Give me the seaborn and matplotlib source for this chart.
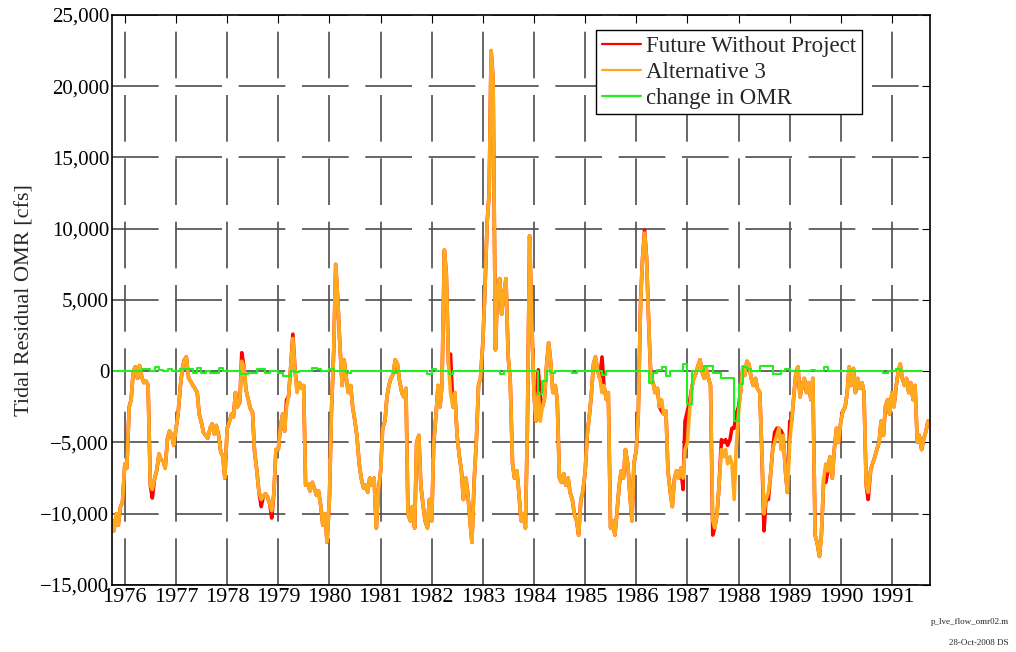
import numpy as np
import pandas as pd
import matplotlib
matplotlib.use("Agg")
import matplotlib.pyplot as plt
import matplotlib.dates as mdates
from matplotlib.ticker import FuncFormatter, MultipleLocator
import seaborn as sns

# Alternative 3, tidal residual OMR [cfs], read twice a month, Oct 1975 - Sep 1991
alt3 = [
    -10500, -11200, -10000, -10800, -9500, -9200, -6500, -6800, -2500, -2000, 0, 300,
    -500, 400, -400, -800, -700, -1000, -8000, -8300, -7500, -7000, -5800, -6200,
    -6300, -6800, -4700, -4200, -4500, -5200, -4000, -3000, -1000, 200, 800, 1000,
    -500, -700, -1000, -1200, -1500, -3000, -3600, -4300, -4500, -4700, -4000, -3700,
    -4400, -3800, -4500, -5600, -6000, -7500, -4000, -3600, -3000, -3200, -1500, -2500,
    -2200, 700, 300, -1300, -2000, -2600, -2900, -5600, -7000, -8400, -9000, -8800,
    -8600, -8800, -9300, -9800, -8500, -5500, -5500, -4000, -3000, -4200, -2500, -1800,
    500, 2300, 0, -1500, -800, -1200, -1000, -8000, -7900, -8400, -7800, -8200,
    -8700, -8400, -9500, -10800, -10000, -12000, -9000, -3000, 1500, 7500, 5000, 2000,
    -1000, 800, -500, -1500, -1000, -2500, -3500, -4500, -6500, -7500, -8200, -8000,
    -8500, -7500, -8000, -7500, -11000, -8500, -7000, -4000, -3500, -1800, -1000, -500,
    -200, 800, 500, -600, -1500, -1800, -1200, -10000, -10500, -9500, -11000, -5000,
    -4500, -8000, -9500, -10500, -11000, -9000, -10500, -5000, -3000, -1000, -2500, -1000,
    8500, 6800, 500, -1500, -2500, -1500, -4500, -5800, -7000, -9000, -7500, -8500,
    -10500, -12000, -7500, -5000, -1000, -500, 2000, 5500, 10500, 12500, 22500, 20500,
    1500, 5500, 6500, 4000, 5500, 6500, 1000, -500, -6500, -7500, -7000, -8500,
    -10500, -10000, -11000, -4000, 9500, 4000, -1500, -3500, -1500, -3500, -2500, -2000,
    500, 2000, 500, -1500, -1000, -2000, -7500, -7800, -7200, -8000, -7500, -8500,
    -9000, -10000, -10500, -11500, -9000, -8500, -7000, -4500, -3000, -1500, 500, 1000,
    0, -500, -1500, -1000, -2000, -1500, -11000, -10500, -11500, -10000, -8000, -7000,
    -7500, -5500, -6500, -8500, -10500, -6500, -5500, -3000, 5000, 8000, 9700, 8000,
    3000, -500, -800, -1500, -1200, -2500, -2000, -3000, -2800, -7000, -8500, -9500,
    -7500, -7000, -7500, -6800, -7500, -5500, -5000, -3000, -1200, -500, -200, 300,
    800, 0, -500, 200, -500, -1000, -10500, -11000, -10000, -8000, -5500, -6000,
    -5500, -6500, -6000, -6500, -9000, -5500, -3000, -1500, 300, -300, 700, 500,
    -500, -1000, -500, -1200, -1500, -5500, -10000, -9000, -8500, -7500, -5500, -5000,
    -4500, -4000, -5500, -4500, -7000, -8500, -5000, -3500, -1500, 0, 300, -1800,
    -1000, -500, -1500, -800, -2000, -500, -11500, -12000, -13000, -11500, -7500, -6500,
    -7000, -6000, -7500, -5500, -4000, -5000, -3500, -2800, -2500, -1500, 300, -1000,
    200, -1500, -500, -1200, -800, -1500, -8000, -8500, -7000, -6500, -6000, -5500,
    -5000, -3500, -4500, -2500, -2000, -3000, -1500, -2500, -1000, 0, 500, -500,
    -1000, -500, -1500, -800, -2000, -1000, -5000, -4500, -5500, -4800, -4200, -3500,
]

# Future Without Project: same as Alternative 3 except where red shows through
fwop_readings = {
    19: -8900, 61: 1300, 70: -9500, 75: -10300, 82: -2000, 85: 2600, 87: -1300,
    159: 1200, 200: 100, 201: -1900, 230: 1000, 250: 9900, 258: -2800,
    268: -8300, 269: -3500, 270: -2800, 271: -2200, 282: -11500,
    286: -4800, 287: -5000, 288: -4800, 289: -5200, 290: -4800, 291: -4000,
    292: -4000, 293: -3000, 294: -2500, 306: -11200, 308: -9000,
    311: -4300, 312: -4000, 314: -4200, 318: -3500, 335: -7800, 355: -9000,
}
fwop = list(alt3)
for k, v in fwop_readings.items():
    fwop[k] = v

# change in OMR, monthly steps, Oct 1975 - Aug 1991
change = [
    0, 0, 0, 0, 0, 0, 0, 150, 150, 0, 300, 100,
    0, 150, 0, 50, 150, 150, 150, -100, 250, -100, 0, -100,
    -100, 250, 0, 0, 0, 0, -200, -200, -100, -100, 150, 150,
    -100, 0, 0, -100, -300, -300, 0, -50, 0, 0, 0, 200,
    150, 0, 0, 150, 0, 0, 0, -150, 0, 0, 0, 0,
    0, 0, 0, 0, 0, 0, -150, 0, 0, 0, 0, 0,
    0, 0, -200, 150, 0, 0, 0, -200, 0, 0, 0, 0,
    0, 0, 0, 0, 0, 0, 0, -200, 0, 0, 0, 0,
    0, 0, 0, 0, -1600, -700, 0, -100, 0, 0, 0, 0,
    -100, 0, 0, 0, 0, 0, 0, -250, 0, 0, 0, 0,
    0, 0, 0, 0, 0, 0, -800, -150, 100, 300, -300, 0,
    0, 0, 500, -2300, 0, 0, 0, 350, 350, -100, -100, -500,
    -500, -500, -3500, -900, 300, 150, 50, 50, 400, 400, 400, -200,
    -200, 0, 150, 0, 0, 0, 0, 0, 100, 0, 0, 300,
    50, 50, 0, 0, 0, 0, 0, 0, 0, 0, 0, 0,
    0, -100, 0, 0, 150, 0, 0, 0, 0, 0, 0,
]

dates = pd.date_range("1975-10-01", periods=len(alt3), freq="SMS")
months = pd.date_range("1975-10-01", periods=len(change), freq="MS")
df = pd.DataFrame({"date": dates, "fwop": fwop, "alt3": alt3})
dchg = pd.DataFrame({"date": months, "change": change})

sns.set_style("white")
plt.rcParams["font.family"] = ["Liberation Serif", "DejaVu Serif"]

fig = plt.figure(figsize=(10.16, 6.52), dpi=100)
ax = fig.add_axes([0.1102, 0.1028, 0.8052, 0.8742])

sns.lineplot(data=df, x="date", y="fwop", color="#ff0000", lw=2.6,
             label="Future Without Project", ax=ax)
sns.lineplot(data=df, x="date", y="alt3", color="#ffaa1e", lw=2.6,
             label="Alternative 3", ax=ax)
sns.lineplot(data=dchg, x="date", y="change", color="#22ee22", lw=1.5,
             drawstyle="steps-post", label="change in OMR", ax=ax)

ax.set_xlim(pd.Timestamp("1975-10-01"), pd.Timestamp("1991-09-30"))
ax.set_ylim(-15000, 25000)
ax.xaxis.set_major_locator(mdates.YearLocator())
ax.xaxis.set_major_formatter(mdates.DateFormatter("%Y"))
ax.yaxis.set_major_locator(MultipleLocator(5000))
ax.yaxis.set_major_formatter(
    FuncFormatter(lambda v, p: f"{v:,.0f}".replace("-", "\u2212")))

ax.grid(True, color="0.3", lw=1.2, linestyle=(0, (28, 10)))
for s in ax.spines.values():
    s.set_color("black")
    s.set_linewidth(1.2)
ax.tick_params(direction="in", length=6, top=True, right=True,
               pad=2, colors="black")
ax.tick_params(axis="x", labelsize=16)
ax.tick_params(axis="y", labelsize=15)

ax.set_xlabel("")
ax.set_ylabel("Tidal Residual OMR [cfs]", fontsize=16, labelpad=4)

leg = ax.legend(loc="upper right", bbox_to_anchor=(0.917, 0.974), frameon=True,
                fancybox=False, edgecolor="black", framealpha=1, fontsize=16.5,
                handlelength=1.7, handletextpad=0.25, borderpad=0.25,
                labelspacing=0.22, borderaxespad=0)
leg.get_frame().set_linewidth(1.0)
for line in leg.get_lines():
    line.set_linewidth(1.6)

fig.text(0.993, 0.046, "p_lve_flow_omr02.m", ha="right", va="center", fontsize=6.5)
fig.text(0.993, 0.014, "28-Oct-2008 DS", ha="right", va="center", fontsize=6.5)

fig.savefig("out.png", dpi=100)
